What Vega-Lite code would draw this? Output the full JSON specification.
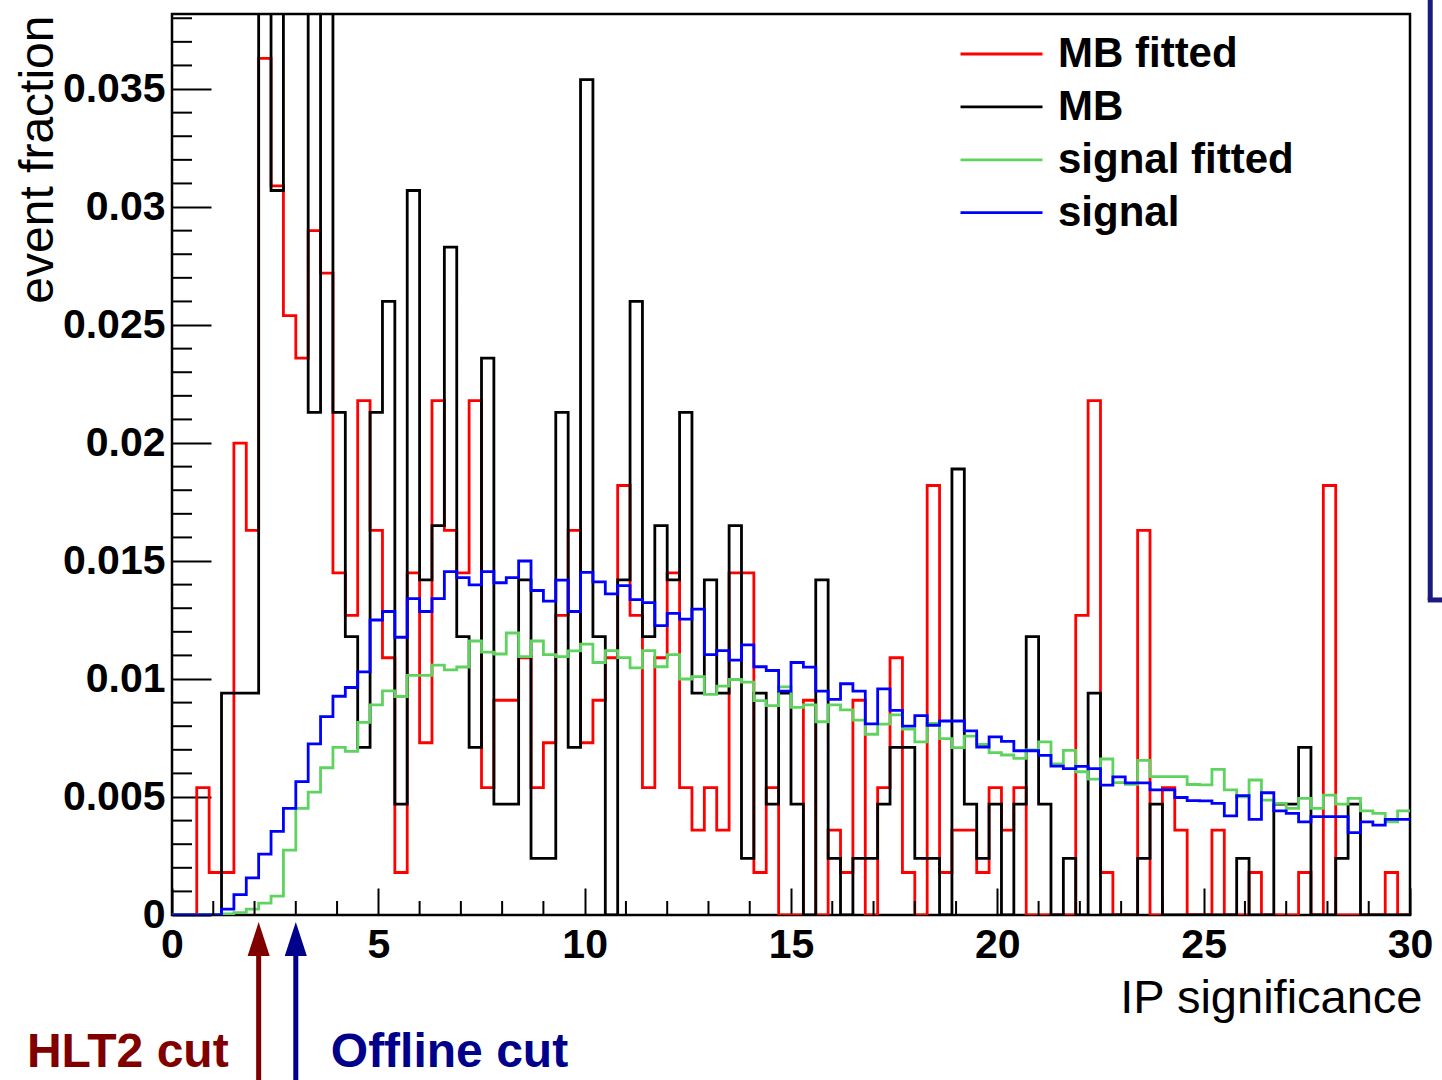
{
  "$schema": "https://vega.github.io/schema/vega-lite/v6.json",
  "width": 1238,
  "height": 901,
  "autosize": {"type": "none"},
  "padding": {"left": 172, "top": 14, "right": 32, "bottom": 165},
  "background": "white",
  "config": {"font": "Liberation Sans", "view": {"stroke": "black", "strokeWidth": 2.5}},
  "datasets": {
    "hist": [
      {"x": 0, "mbf": 0, "mb": 0, "sigf": 0, "sig": 0},
      {"x": 0.3, "mbf": 0, "mb": 0, "sigf": 0, "sig": 0},
      {"x": 0.6, "mbf": 0.0054, "mb": 0, "sigf": 0, "sig": 0},
      {"x": 0.9, "mbf": 0.0018, "mb": 0, "sigf": 0, "sig": 0},
      {"x": 1.2, "mbf": 0.0018, "mb": 0.0094, "sigf": 0.00005, "sig": 0.00025},
      {"x": 1.5, "mbf": 0.0200, "mb": 0.0094, "sigf": 0.0001, "sig": 0.00086},
      {"x": 1.8, "mbf": 0.0163, "mb": 0.0094, "sigf": 0.00025, "sig": 0.00157},
      {"x": 2.1, "mbf": 0.0363, "mb": 0.045, "sigf": 0.0005, "sig": 0.00258},
      {"x": 2.4, "mbf": 0.0309, "mb": 0.0307, "sigf": 0.0008, "sig": 0.00354},
      {"x": 2.7, "mbf": 0.0254, "mb": 0.045, "sigf": 0.00275, "sig": 0.00452},
      {"x": 3.0, "mbf": 0.0236, "mb": 0.045, "sigf": 0.00452, "sig": 0.00565},
      {"x": 3.3, "mbf": 0.0290, "mb": 0.0213, "sigf": 0.00521, "sig": 0.00725},
      {"x": 3.6, "mbf": 0.0272, "mb": 0.045, "sigf": 0.00624, "sig": 0.00841},
      {"x": 3.9, "mbf": 0.0145, "mb": 0.0213, "sigf": 0.0071, "sig": 0.00927},
      {"x": 4.2, "mbf": 0.0127, "mb": 0.0118, "sigf": 0.00693, "sig": 0.00964},
      {"x": 4.5, "mbf": 0.0218, "mb": 0.0071, "sigf": 0.00816, "sig": 0.0103},
      {"x": 4.8, "mbf": 0.0163, "mb": 0.0213, "sigf": 0.0089, "sig": 0.0125},
      {"x": 5.1, "mbf": 0.0109, "mb": 0.026, "sigf": 0.0095, "sig": 0.01286},
      {"x": 5.4, "mbf": 0.0018, "mb": 0.0047, "sigf": 0.00926, "sig": 0.01177},
      {"x": 5.7, "mbf": 0.0145, "mb": 0.0307, "sigf": 0.01015, "sig": 0.01341},
      {"x": 6.0, "mbf": 0.0073, "mb": 0.0142, "sigf": 0.01015, "sig": 0.01286},
      {"x": 6.3, "mbf": 0.0218, "mb": 0.0165, "sigf": 0.01059, "sig": 0.01341},
      {"x": 6.6, "mbf": 0.0163, "mb": 0.0283, "sigf": 0.01039, "sig": 0.01455},
      {"x": 6.9, "mbf": 0.0145, "mb": 0.0118, "sigf": 0.01051, "sig": 0.0143},
      {"x": 7.2, "mbf": 0.0218, "mb": 0.0071, "sigf": 0.01161, "sig": 0.01399},
      {"x": 7.5, "mbf": 0.0054, "mb": 0.0236, "sigf": 0.01114, "sig": 0.01455},
      {"x": 7.8, "mbf": 0.0091, "mb": 0.0047, "sigf": 0.01106, "sig": 0.01408},
      {"x": 8.1, "mbf": 0.0091, "mb": 0.0047, "sigf": 0.01195, "sig": 0.0143},
      {"x": 8.4, "mbf": 0.0109, "mb": 0.0142, "sigf": 0.01095, "sig": 0.0150},
      {"x": 8.7, "mbf": 0.0054, "mb": 0.0024, "sigf": 0.01161, "sig": 0.01375},
      {"x": 9.0, "mbf": 0.0073, "mb": 0.0024, "sigf": 0.01103, "sig": 0.0133},
      {"x": 9.3, "mbf": 0.0127, "mb": 0.0213, "sigf": 0.01095, "sig": 0.01419},
      {"x": 9.6, "mbf": 0.0163, "mb": 0.0071, "sigf": 0.01119, "sig": 0.01286},
      {"x": 9.9, "mbf": 0.0073, "mb": 0.0354, "sigf": 0.01148, "sig": 0.01452},
      {"x": 10.2, "mbf": 0.0091, "mb": 0.0118, "sigf": 0.0107, "sig": 0.01412},
      {"x": 10.5, "mbf": 0.0109, "mb": 0, "sigf": 0.0112, "sig": 0.01361},
      {"x": 10.8, "mbf": 0.0182, "mb": 0.0142, "sigf": 0.01091, "sig": 0.01396},
      {"x": 11.1, "mbf": 0.0127, "mb": 0.026, "sigf": 0.01047, "sig": 0.01336},
      {"x": 11.4, "mbf": 0.0054, "mb": 0.0118, "sigf": 0.0112, "sig": 0.01324},
      {"x": 11.7, "mbf": 0.0109, "mb": 0.0165, "sigf": 0.01052, "sig": 0.01226},
      {"x": 12.0, "mbf": 0.0145, "mb": 0.0142, "sigf": 0.01103, "sig": 0.01278},
      {"x": 12.3, "mbf": 0.0054, "mb": 0.0213, "sigf": 0.0100, "sig": 0.01254},
      {"x": 12.6, "mbf": 0.0036, "mb": 0.0094, "sigf": 0.0101, "sig": 0.01296},
      {"x": 12.9, "mbf": 0.0054, "mb": 0.0142, "sigf": 0.00935, "sig": 0.01103},
      {"x": 13.2, "mbf": 0.0036, "mb": 0.0094, "sigf": 0.0097, "sig": 0.0112},
      {"x": 13.5, "mbf": 0.0145, "mb": 0.0165, "sigf": 0.00998, "sig": 0.0108},
      {"x": 13.8, "mbf": 0.0145, "mb": 0.0024, "sigf": 0.00987, "sig": 0.01145},
      {"x": 14.1, "mbf": 0.0018, "mb": 0.0094, "sigf": 0.00908, "sig": 0.01052},
      {"x": 14.4, "mbf": 0.0054, "mb": 0.0047, "sigf": 0.00887, "sig": 0.01036},
      {"x": 14.7, "mbf": 0, "mb": 0.0094, "sigf": 0.00967, "sig": 0.00949},
      {"x": 15.0, "mbf": 0, "mb": 0.0047, "sigf": 0.0088, "sig": 0.0107},
      {"x": 15.3, "mbf": 0.0091, "mb": 0, "sigf": 0.0089, "sig": 0.0105},
      {"x": 15.6, "mbf": 0, "mb": 0.0142, "sigf": 0.00819, "sig": 0.00949},
      {"x": 15.9, "mbf": 0.0036, "mb": 0.0024, "sigf": 0.0089, "sig": 0.00914},
      {"x": 16.2, "mbf": 0.0018, "mb": 0, "sigf": 0.00869, "sig": 0.0098},
      {"x": 16.5, "mbf": 0.0091, "mb": 0.0024, "sigf": 0.00826, "sig": 0.00949},
      {"x": 16.8, "mbf": 0, "mb": 0.0024, "sigf": 0.00766, "sig": 0.0081},
      {"x": 17.1, "mbf": 0.0054, "mb": 0.0047, "sigf": 0.00809, "sig": 0.00958},
      {"x": 17.4, "mbf": 0.0109, "mb": 0.0071, "sigf": 0.00848, "sig": 0.00867},
      {"x": 17.7, "mbf": 0.0018, "mb": 0.0071, "sigf": 0.00788, "sig": 0.008},
      {"x": 18.0, "mbf": 0, "mb": 0.0024, "sigf": 0.00734, "sig": 0.00845},
      {"x": 18.3, "mbf": 0.0182, "mb": 0.0024, "sigf": 0.00812, "sig": 0.00804},
      {"x": 18.6, "mbf": 0.0018, "mb": 0, "sigf": 0.00747, "sig": 0.00822},
      {"x": 18.9, "mbf": 0.0036, "mb": 0.0189, "sigf": 0.00709, "sig": 0.00822},
      {"x": 19.2, "mbf": 0.0036, "mb": 0.0047, "sigf": 0.00758, "sig": 0.0078},
      {"x": 19.5, "mbf": 0.0018, "mb": 0.0024, "sigf": 0.00723, "sig": 0.00712},
      {"x": 19.8, "mbf": 0.0054, "mb": 0.0047, "sigf": 0.00688, "sig": 0.00755},
      {"x": 20.1, "mbf": 0.0036, "mb": 0, "sigf": 0.00678, "sig": 0.00736},
      {"x": 20.4, "mbf": 0.0054, "mb": 0.0047, "sigf": 0.00664, "sig": 0.00696},
      {"x": 20.7, "mbf": 0, "mb": 0.0118, "sigf": 0.0070, "sig": 0.00696},
      {"x": 21.0, "mbf": 0, "mb": 0.0047, "sigf": 0.00734, "sig": 0.00676},
      {"x": 21.3, "mbf": 0, "mb": 0, "sigf": 0.0064, "sig": 0.00631},
      {"x": 21.6, "mbf": 0, "mb": 0.0024, "sigf": 0.00698, "sig": 0.0062},
      {"x": 21.9, "mbf": 0.0127, "mb": 0, "sigf": 0.00607, "sig": 0.0063},
      {"x": 22.2, "mbf": 0.0218, "mb": 0.0094, "sigf": 0.00576, "sig": 0.0062},
      {"x": 22.5, "mbf": 0.0018, "mb": 0, "sigf": 0.00661, "sig": 0.0055},
      {"x": 22.8, "mbf": 0, "mb": 0, "sigf": 0.00561, "sig": 0.00585},
      {"x": 23.1, "mbf": 0, "mb": 0, "sigf": 0.00554, "sig": 0.0056},
      {"x": 23.4, "mbf": 0.0163, "mb": 0.0024, "sigf": 0.00655, "sig": 0.0056},
      {"x": 23.7, "mbf": 0, "mb": 0.0047, "sigf": 0.00586, "sig": 0.0053},
      {"x": 24.0, "mbf": 0.0054, "mb": 0, "sigf": 0.00586, "sig": 0.0053},
      {"x": 24.3, "mbf": 0.0036, "mb": 0, "sigf": 0.00586, "sig": 0.00498},
      {"x": 24.6, "mbf": 0, "mb": 0, "sigf": 0.00553, "sig": 0.00485},
      {"x": 24.9, "mbf": 0, "mb": 0, "sigf": 0.00551, "sig": 0.00484},
      {"x": 25.2, "mbf": 0.0036, "mb": 0, "sigf": 0.00617, "sig": 0.00473},
      {"x": 25.5, "mbf": 0, "mb": 0, "sigf": 0.0053, "sig": 0.0042},
      {"x": 25.8, "mbf": 0, "mb": 0.0024, "sigf": 0.00501, "sig": 0.00506},
      {"x": 26.1, "mbf": 0.0018, "mb": 0, "sigf": 0.00572, "sig": 0.00405},
      {"x": 26.4, "mbf": 0, "mb": 0, "sigf": 0.00487, "sig": 0.00518},
      {"x": 26.7, "mbf": 0, "mb": 0.0047, "sigf": 0.00473, "sig": 0.00441},
      {"x": 27.0, "mbf": 0, "mb": 0.0047, "sigf": 0.00452, "sig": 0.00431},
      {"x": 27.3, "mbf": 0.0018, "mb": 0.0071, "sigf": 0.00494, "sig": 0.00395},
      {"x": 27.6, "mbf": 0, "mb": 0, "sigf": 0.00452, "sig": 0.00417},
      {"x": 27.9, "mbf": 0.0182, "mb": 0, "sigf": 0.00508, "sig": 0.00417},
      {"x": 28.2, "mbf": 0, "mb": 0.0024, "sigf": 0.0047, "sig": 0.00417},
      {"x": 28.5, "mbf": 0, "mb": 0.0047, "sigf": 0.00494, "sig": 0.00349},
      {"x": 28.8, "mbf": 0, "mb": 0, "sigf": 0.00441, "sig": 0.00395},
      {"x": 29.1, "mbf": 0, "mb": 0, "sigf": 0.00431, "sig": 0.00381},
      {"x": 29.4, "mbf": 0.0018, "mb": 0, "sigf": 0.00395, "sig": 0.00405},
      {"x": 29.7, "mbf": 0, "mb": 0, "sigf": 0.00441, "sig": 0.00405},
      {"x": 30.0, "mbf": 0, "mb": 0, "sigf": 0.00441, "sig": 0.00405}
    ],
    "cuts": [
      {"cut": "HLT2 cut", "x": 2.1},
      {"cut": "Offline cut", "x": 3.0}
    ],
    "xminor": [{"v": 1}, {"v": 2}, {"v": 3}, {"v": 4}, {"v": 6}, {"v": 7}, {"v": 8}, {"v": 9}, {"v": 11}, {"v": 12}, {"v": 13}, {"v": 14}, {"v": 16}, {"v": 17}, {"v": 18}, {"v": 19}, {"v": 21}, {"v": 22}, {"v": 23}, {"v": 24}, {"v": 26}, {"v": 27}, {"v": 28}, {"v": 29}],
    "yminor": [{"v": 0.001}, {"v": 0.002}, {"v": 0.003}, {"v": 0.004}, {"v": 0.006}, {"v": 0.007}, {"v": 0.008}, {"v": 0.009}, {"v": 0.011}, {"v": 0.012}, {"v": 0.013}, {"v": 0.014}, {"v": 0.016}, {"v": 0.017}, {"v": 0.018}, {"v": 0.019}, {"v": 0.021}, {"v": 0.022}, {"v": 0.023}, {"v": 0.024}, {"v": 0.026}, {"v": 0.027}, {"v": 0.028}, {"v": 0.029}, {"v": 0.031}, {"v": 0.032}, {"v": 0.033}, {"v": 0.034}, {"v": 0.036}, {"v": 0.037}, {"v": 0.038}]
  },
  "data": {"name": "hist"},
  "layer": [
    {
      "mark": {"type": "line", "interpolate": "step-after", "clip": true, "strokeWidth": 2.8},
      "encoding": {
        "x": {"field": "x", "type": "quantitative", "scale": {"domain": [0, 30], "nice": false, "zero": false},
          "axis": {"title": "IP significance", "values": [0, 5, 10, 15, 20, 25, 30],
            "format": "d", "tickSize": -27, "tickColor": "black", "tickWidth": 2, "domain": false, "grid": false,
            "labelFont": "Liberation Sans", "labelFontSize": 41, "labelFontWeight": "bold", "labelColor": "black",
            "labelPadding": 37, "labelOverlap": false, "labelFlush": false, "labelBound": false,
            "titleFont": "Liberation Sans", "titleFontSize": 47, "titleFontWeight": "normal", "titleColor": "black",
            "titleAlign": "right", "titleBaseline": "alphabetic", "titleAnchor": "end", "titleX": 1250, "titleY": 97}},
        "y": {"field": "mbf", "type": "quantitative", "scale": {"domain": [0, 0.03818], "nice": false, "zero": false},
          "axis": {"title": "event fraction",
            "values": [0, 0.005, 0.01, 0.015, 0.02, 0.025, 0.03, 0.035],
            "format": "~g", "tickSize": -39, "tickColor": "black", "tickWidth": 2, "domain": false, "grid": false,
            "labelFont": "Liberation Sans", "labelFontSize": 41, "labelFontWeight": "bold", "labelColor": "black",
            "labelPadding": 46, "labelOverlap": false, "labelFlush": false, "labelBound": false,
            "titleFont": "Liberation Sans", "titleFontSize": 48, "titleFontWeight": "normal", "titleColor": "black",
            "titleAngle": 270, "titleAlign": "right", "titleBaseline": "alphabetic", "titleAnchor": "end", "titleX": -120, "titleY": 1}},
        "color": {"datum": "MB fitted",
          "scale": {"domain": ["MB fitted", "MB", "signal fitted", "signal"], "range": ["#ff0000", "#000000", "#5fd35f", "#0000ff"]},
          "legend": {"orient": "none", "legendX": 787, "legendY": 19.5, "title": null, "symbolType": "stroke", "symbolSize": 6724,
            "symbolStrokeWidth": 2.8, "clipHeight": 41, "rowPadding": 9.9, "labelFont": "Liberation Sans", "labelFontSize": 42,
            "labelFontWeight": "bold", "labelColor": "black", "labelOffset": 14, "labelLimit": 600, "padding": 0, "labelBaseline": "middle"}}
      }
    },
    {
      "mark": {"type": "line", "interpolate": "step-after", "clip": true, "strokeWidth": 2.8},
      "encoding": {
        "x": {"field": "x", "type": "quantitative"},
        "y": {"field": "mb", "type": "quantitative"},
        "color": {"datum": "MB"}
      }
    },
    {
      "mark": {"type": "line", "interpolate": "step-after", "clip": true, "strokeWidth": 2.8},
      "encoding": {
        "x": {"field": "x", "type": "quantitative"},
        "y": {"field": "sigf", "type": "quantitative"},
        "color": {"datum": "signal fitted"}
      }
    },
    {
      "mark": {"type": "line", "interpolate": "step-after", "clip": true, "strokeWidth": 2.8},
      "encoding": {
        "x": {"field": "x", "type": "quantitative"},
        "y": {"field": "sig", "type": "quantitative"},
        "color": {"datum": "signal"}
      }
    },
    {
      "data": {"name": "xminor"},
      "mark": {"type": "rule", "color": "black", "strokeWidth": 2, "clip": false},
      "encoding": {
        "x": {"field": "v", "type": "quantitative"},
        "y": {"datum": 0},
        "y2": {"datum": 0.000593}
      }
    },
    {
      "data": {"name": "yminor"},
      "mark": {"type": "rule", "color": "black", "strokeWidth": 2, "clip": false},
      "encoding": {
        "y": {"field": "v", "type": "quantitative"},
        "x": {"datum": 0},
        "x2": {"datum": 0.4847}
      }
    },
    {
      "data": {"name": "cuts"},
      "transform": [{"filter": "datum.cut == 'HLT2 cut'"}],
      "layer": [
        {"mark": {"type": "rule", "color": "#800000", "strokeWidth": 5, "clip": false},
         "encoding": {"x": {"field": "x", "type": "quantitative"}, "y": {"datum": -0.0016}, "y2": {"datum": -0.0075}}},
        {"mark": {"type": "point", "shape": "M0,-1L0.65,1L-0.65,1Z", "size": 1156, "filled": true, "color": "#800000", "opacity": 1, "clip": false},
         "encoding": {"x": {"field": "x", "type": "quantitative"}, "y": {"datum": -0.00102}}},
        {"mark": {"type": "text", "color": "#800000", "font": "Liberation Sans", "fontWeight": "bold", "fontSize": 48, "align": "right", "baseline": "alphabetic", "dx": -30, "clip": false},
         "encoding": {"x": {"field": "x", "type": "quantitative"}, "y": {"datum": -0.00644}, "text": {"field": "cut"}}}
      ]
    },
    {
      "data": {"name": "cuts"},
      "transform": [{"filter": "datum.cut == 'Offline cut'"}],
      "layer": [
        {"mark": {"type": "rule", "color": "#00008b", "strokeWidth": 5, "clip": false},
         "encoding": {"x": {"field": "x", "type": "quantitative"}, "y": {"datum": -0.0016}, "y2": {"datum": -0.0075}}},
        {"mark": {"type": "point", "shape": "M0,-1L0.65,1L-0.65,1Z", "size": 1156, "filled": true, "color": "#00008b", "opacity": 1, "clip": false},
         "encoding": {"x": {"field": "x", "type": "quantitative"}, "y": {"datum": -0.00102}}},
        {"mark": {"type": "text", "color": "#00008b", "font": "Liberation Sans", "fontWeight": "bold", "fontSize": 48, "align": "left", "baseline": "alphabetic", "dx": 35, "clip": false},
         "encoding": {"x": {"field": "x", "type": "quantitative"}, "y": {"datum": -0.00644}, "text": {"field": "cut"}}}
      ]
    },
    {
      "data": {"values": [{"part": "frame"}]},
      "layer": [
        {"mark": {"type": "rule", "color": "#1a1a80", "strokeWidth": 5, "clip": false},
         "encoding": {"x": {"datum": 30.49}, "y": {"datum": 0.01335}, "y2": {"datum": 0.0395}}},
        {"mark": {"type": "rule", "color": "#1a1a80", "strokeWidth": 5, "clip": false},
         "encoding": {"x": {"datum": 30.43}, "x2": {"datum": 30.9}, "y": {"datum": 0.01335}}}
      ]
    }
  ]
}
